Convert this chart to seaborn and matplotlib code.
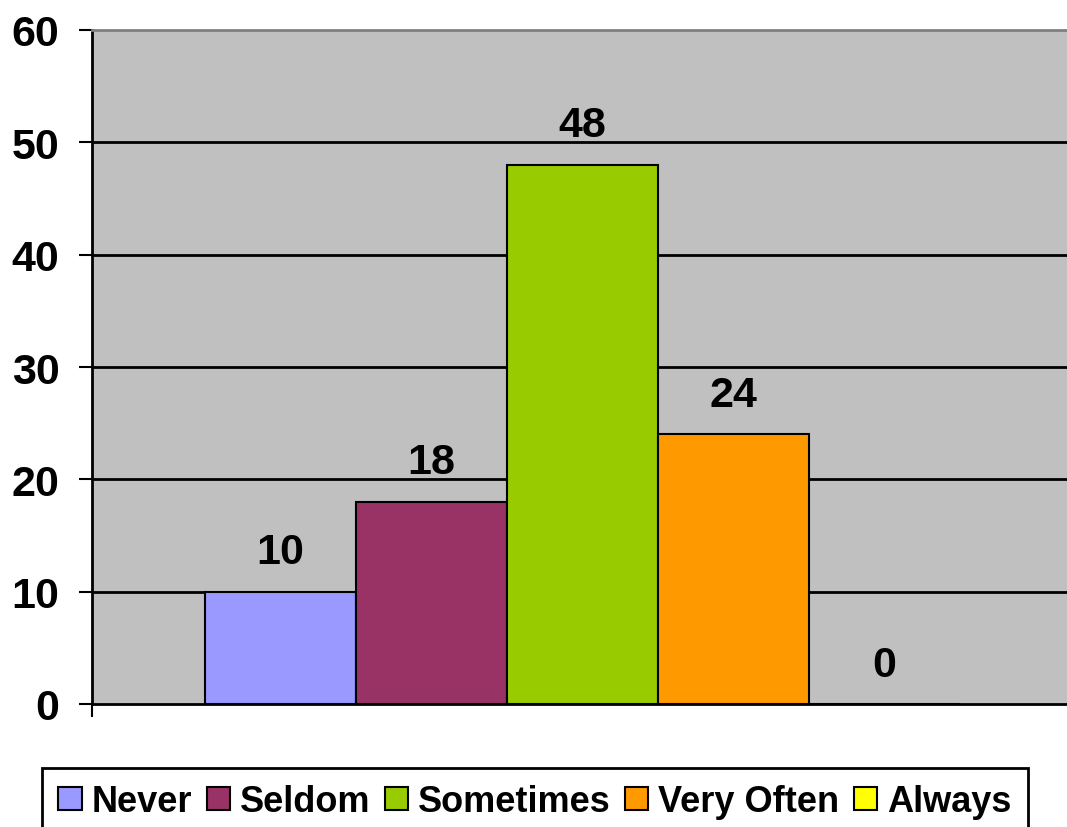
import pandas as pd
import matplotlib.pyplot as plt
import seaborn as sns

# data
categorias = ["Never", "Seldom", "Sometimes", "Very Often", "Always"]
valores = [10, 18, 48, 24, 0]
cores = ["#9999FF", "#993366", "#99CC00", "#FF9900", "#FFFF00"]
y_ticks = [0, 10, 20, 30, 40, 50, 60]


def main():
    df = pd.DataFrame({"grupo": [""] * len(categorias),
                       "categoria": categorias,
                       "valor": valores})

    sns.set_theme(style="white")
    plt.rcParams["font.family"] = ["Liberation Sans", "DejaVu Sans"]
    plt.rcParams["font.weight"] = "bold"
    plt.rcParams["text.color"] = "black"
    plt.rcParams["ytick.color"] = "black"
    plt.rcParams["xtick.color"] = "black"

    fig = plt.figure(figsize=(10.67, 8.28), dpi=100)
    ax = fig.add_axes([92 / 1067, 1 - 705 / 828, 1 - 92 / 1067, (705 - 31) / 828])
    ax.set_facecolor("#C0C0C0")

    sns.barplot(data=df, x="grupo", y="valor", hue="categoria",
                hue_order=categorias, palette=cores, width=0.775, saturation=1,
                edgecolor="black", linewidth=1.5, ax=ax, zorder=3)

    ax.set_ylim(0, 60)
    ax.set_xlim(-0.503, 0.497)
    ax.set_yticks(y_ticks)
    ax.set_yticklabels([str(t) for t in y_ticks], fontsize=31, fontweight="bold", color="black")
    ax.set_xticks([-0.503])
    ax.set_xticklabels([""])
    ax.tick_params(axis="y", direction="out", length=9.5, width=1.5, color="black", pad=14, left=True)
    ax.tick_params(axis="x", direction="out", length=9, width=1.5, color="black", bottom=True)
    ax.set_xlabel("")
    ax.set_ylabel("")

    # linhas de grade pretas
    for y in y_ticks[1:-1]:
        ax.axhline(y, color="black", linewidth=2, zorder=1)

    for lado in ["left", "bottom"]:
        ax.spines[lado].set_color("black")
        ax.spines[lado].set_linewidth(2)
    ax.spines["top"].set_color("#808080")
    ax.spines["top"].set_linewidth(2)
    ax.spines["right"].set_visible(False)

    # valores acima das barras
    for cont in ax.containers:
        ax.bar_label(cont, fmt="%d", padding=14, fontsize=31, fontweight="bold", color="black")

    handles, labels = ax.get_legend_handles_labels()
    ax.get_legend().remove()
    leg = fig.legend(handles, labels, loc="upper center", ncol=5,
                     bbox_to_anchor=(535 / 1067, 1 - 769 / 828),
                     frameon=True, fancybox=False, edgecolor="black", framealpha=1,
                     fontsize=26, handlelength=0.64, handleheight=0.64,
                     handletextpad=0.28, columnspacing=0.4, borderpad=0.45,
                     borderaxespad=0)
    leg.get_frame().set_linewidth(2)
    for t in leg.get_texts():
        t.set_fontweight("bold")
        t.set_color("black")
    for h in leg.legend_handles:
        h.set_edgecolor("black")
        h.set_linewidth(1.5)

    fig.savefig("out.png", dpi=100)


if __name__ == "__main__":
    main()
